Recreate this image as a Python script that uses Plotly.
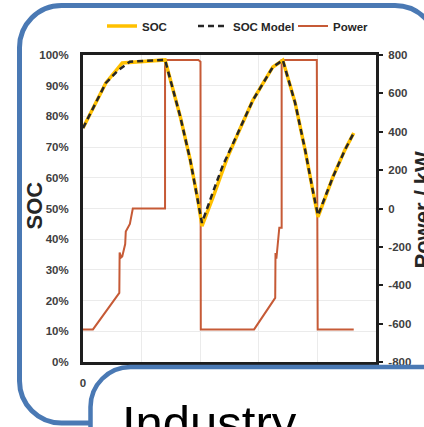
import plotly.graph_objects as go

# ---------------- data (time in h, SOC in %, power in kW) ----------------
soc_t = [0, 0.39, 0.67, 0.97, 1.40, 1.66, 1.83, 1.96, 2.03, 2.22, 2.46, 2.68, 2.90,
         3.24, 3.41, 3.62, 3.79, 3.92, 4.01, 4.27, 4.47, 4.62]
soc_v = [76.2, 90.9, 97.4, 97.8, 98.4, 79.9, 65.8, 52.8, 44.3, 53.7, 66.4, 76.0, 85.3,
         96.1, 98.3, 84.4, 69.1, 56.0, 47.3, 60.5, 69.1, 74.6]

model_t = [0, 0.39, 0.60, 0.80, 1.40, 1.66, 1.83, 1.96, 2.03, 2.22, 2.39, 2.46, 2.68,
           2.90, 3.24, 3.41, 3.62, 3.79, 3.92, 4.01, 4.27, 4.47, 4.62]
model_v = [76.2, 90.9, 95.0, 97.8, 98.4, 79.9, 65.8, 52.8, 45.3, 55.5, 64.2, 67.0, 76.0,
           85.3, 96.1, 98.3, 84.4, 69.1, 56.0, 47.8, 60.5, 69.1, 74.6]

power_t = [0, 0.17, 0.62, 0.625, 0.65, 0.67, 0.72, 0.73, 0.80, 0.85, 1.40, 1.40, 1.97,
           2.005, 2.01, 2.92, 3.28, 3.285, 3.30, 3.32, 3.35, 3.39, 3.39, 3.99, 4.005, 4.62]
power_v = [-630, -630, -440, -230, -255, -250, -185, -120, -80, 0, 0, 774, 774,
           765, -630, -630, -466, -232, -262, -200, -100, -100, 774, 774, -630, -630]

soc_ticks = list(range(0, 101, 10))
soc_labels = [f"{v}%" for v in soc_ticks]
power_ticks = list(range(-800, 801, 200))
power_labels = [str(v) for v in power_ticks]
time_ticks = [0, 1, 2, 3, 4, 5]

series_names = ["SOC", "SOC Model", "Power"]
title_left = "SOC"
title_right = "Power / kW"
box_label = "Industry"

# ---------------- styling ----------------
W, H = 424, 427
L, R, T, B = 83, 48, 55, 65
PW = W - L - R
PH = H - T - B

def px(x):
    return (x - L) / PW

def py(y):
    return (H - B - y) / PH

def rrect(x0, y0, x1, y1, r):
    k = 0.5523 * r
    def P(x, y):
        return f"{px(x):.5f},{py(y):.5f}"
    return (f"M{P(x0 + r, y0)} L{P(x1 - r, y0)} "
            f"C{P(x1 - r + k, y0)} {P(x1, y0 + r - k)} {P(x1, y0 + r)} "
            f"L{P(x1, y1 - r)} "
            f"C{P(x1, y1 - r + k)} {P(x1 - r + k, y1)} {P(x1 - r, y1)} "
            f"L{P(x0 + r, y1)} "
            f"C{P(x0 + r - k, y1)} {P(x0, y1 - r + k)} {P(x0, y1 - r)} "
            f"L{P(x0, y0 + r)} "
            f"C{P(x0, y0 + r - k)} {P(x0 + r - k, y0)} {P(x0 + r, y0)} Z")

BLUE = "#4A79B4"
ORANGE = "#FFC000"
RED = "#C65A36"
FRAME = "#1E1E1E"
GRID = "#EBEBEB"
SANS = "Liberation Sans, Arial, sans-serif"
tickfont = dict(family=SANS, size=11.5, color="#404040", weight="bold")

fig = go.Figure()
fig.add_trace(go.Scatter(x=soc_t, y=soc_v, mode="lines", name=series_names[0],
                         line=dict(color=ORANGE, width=3.5), yaxis="y2",
                         legendwidth=46))
fig.add_trace(go.Scatter(x=model_t, y=model_v, mode="lines", name=series_names[1],
                         line=dict(color="#262626", width=2.5, dash="6px,4px"),
                         yaxis="y2", legendwidth=55))
fig.add_trace(go.Scatter(x=power_t, y=power_v, mode="lines", name=series_names[2],
                         line=dict(color=RED, width=2), yaxis="y"))

fig.update_layout(
    width=W, height=H,
    margin=dict(l=L, r=R, t=T, b=B, autoexpand=False),
    paper_bgcolor="white", plot_bgcolor="white",
    showlegend=True,
    legend=dict(orientation="h", x=px(102), y=py(26), xanchor="left", yanchor="middle",
                bgcolor="rgba(0,0,0,0)",
                font=dict(family=SANS, size=11.5, color="#262626", weight="bold"),
                itemwidth=30),
    xaxis=dict(range=[0, 5], tickvals=time_ticks, showgrid=True, gridcolor=GRID, gridwidth=1,
               zeroline=False, showline=True, linewidth=3, linecolor=FRAME, mirror=True,
               ticks="", tickfont=tickfont, ticklabelstandoff=8),
    yaxis=dict(range=[-800, 800], tickvals=power_ticks, ticktext=power_labels, side="right",
               showgrid=False, zeroline=False, showline=True, linewidth=3, linecolor=FRAME,
               ticks="outside", ticklen=4, tickwidth=1.5, tickcolor=FRAME,
               tickfont=tickfont, ticklabelstandoff=3),
    yaxis2=dict(range=[0, 100], tickvals=soc_ticks, ticktext=soc_labels, side="left",
                overlaying="y", showgrid=True, gridcolor=GRID, gridwidth=1,
                zeroline=False, showline=True, linewidth=3, linecolor=FRAME,
                ticks="", tickfont=tickfont, ticklabelstandoff=9),
)

fig.add_shape(type="path", xref="paper", yref="paper", layer="below",
              path=rrect(19.5, 5.5, 437, 423, 42),
              line=dict(color=BLUE, width=5), fillcolor="rgba(0,0,0,0)")
fig.add_shape(type="path", xref="paper", yref="paper", layer="above",
              path=rrect(90.5, 367, 480, 500, 40),
              line=dict(color=BLUE, width=4.5), fillcolor="white")

fig.add_annotation(text=title_left, xref="paper", yref="paper", x=px(33.5), y=py(206),
                   xanchor="center", yanchor="middle", textangle=-90, showarrow=False,
                   font=dict(family=SANS, size=22, color="#262626", weight="bold"))
fig.add_annotation(text=title_right, xref="paper", yref="paper", x=px(407), y=py(210),
                   xanchor="left", yanchor="middle", textangle=-90, showarrow=False,
                   font=dict(family=SANS, size=22, color="#262626", weight="bold"))
fig.add_annotation(text=box_label, xref="paper", yref="paper", x=px(120), y=py(394),
                   xanchor="left", yanchor="top", showarrow=False,
                   font=dict(family=SANS, size=49, color="black"))

fig.write_html("out.html",
               config={"displayModeBar": False},
               post_script="document.body.style.margin='0';document.body.style.padding='0';"
                           "document.documentElement.style.overflow='hidden';")
